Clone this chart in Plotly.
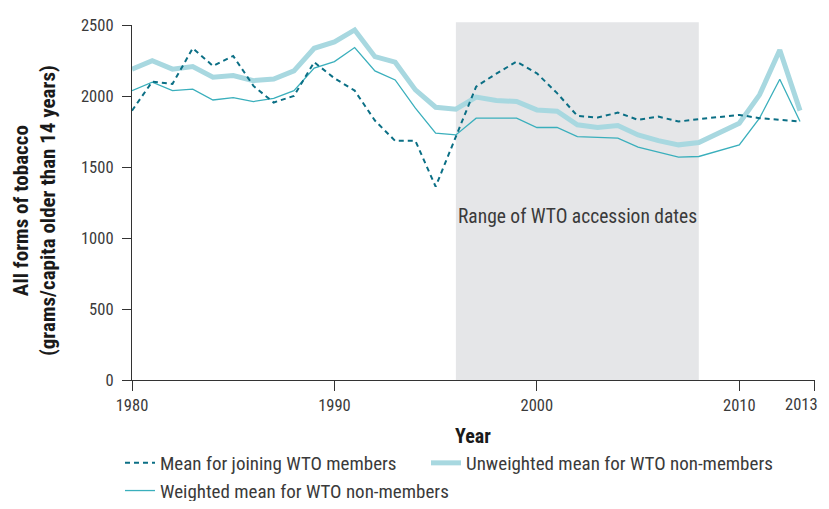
import plotly.graph_objects as go

years = list(range(1980, 2014))

joining = [1897, 2101, 2085, 2336, 2212, 2282, 2071, 1954, 2001, 2238,
           2125, 2038, 1827, 1684, 1684, 1362, 1714, 2066, 2158, 2242,
           2160, 2020, 1860, 1848, 1883, 1832, 1855, 1820, 1837, 1851,
           1867, 1844, 1832, 1820]

unweighted = [2189, 2249, 2189, 2207, 2132, 2144, 2108, 2120, 2177, 2336,
              2381, 2465, 2277, 2238, 2043, 1921, 1907, 1992, 1968, 1961,
              1902, 1893, 1797, 1778, 1792, 1726, 1686, 1656, 1672, 1740,
              1808, 2008, 2324, 1897]

weighted = [2038, 2097, 2038, 2048, 1972, 1989, 1961, 1984, 2038, 2196,
            2242, 2341, 2177, 2113, 1914, 1738, 1726, 1844, 1844, 1844,
            1778, 1778, 1714, 1710, 1703, 1640, 1602, 1569, 1574, 1616,
            1656, 1844, 2118, 1820]

accession_start, accession_end = 1996, 2008
x_tickvals = [1980, 1990, 2000, 2010, 2013.72]
x_ticktext = ["1980", "1990", "2000", "2010", ""]
last_tick_label = "2013"
y_tickvals = [0, 500, 1000, 1500, 2000, 2500]

FONT = "Roboto Condensed, DejaVu Sans Condensed, sans-serif"
TXT = "#3a3a3a"

# The page has an 8px body margin, so the figure is sized to fit the window without
# scrolling; plot area spans page x 132-815, y 25-380.
fig = go.Figure()
fig.add_trace(go.Scatter(x=years, y=unweighted, mode="lines",
                         name="Unweighted mean for WTO non-members", legend="legend2",
                         line=dict(color="#a8d8e0", width=5)))
fig.add_trace(go.Scatter(x=years, y=weighted, mode="lines",
                         name="Weighted mean for WTO non-members", legend="legend",
                         legendgroup="w", legendrank=2,
                         line=dict(color="#3aafbc", width=1.3)))
fig.add_trace(go.Scatter(x=years, y=joining, mode="lines",
                         name="Mean for joining WTO members", legend="legend",
                         legendgroup="j", legendrank=1,
                         line=dict(color="#0b6f85", width=2, dash="5px,4px")))

fig.add_shape(type="rect", xref="x", yref="paper", x0=accession_start, x1=accession_end,
              y0=0, y1=1.008, fillcolor="#e5e6e8", line=dict(width=0), layer="below")

fig.add_annotation(text="Range of WTO accession dates", xref="x", yref="paper",
                   x=(accession_start + accession_end) / 2, y=(380 - 217) / 355,
                   showarrow=False, font=dict(family=FONT, size=19.5, color=TXT))

# last x tick label sits just left of the axis end, as in the original
fig.add_annotation(text=last_tick_label, xref="paper", yref="paper",
                   x=(820 - 132) / 683, y=(380 - 405) / 355, xanchor="right",
                   yanchor="middle", showarrow=False,
                   font=dict(family=FONT, size=16.5, color=TXT))

fig.add_annotation(text="<b>All forms of tobacco<br>(grams/capita older than 14 years)</b>",
                   xref="paper", yref="paper", x=(34 - 132) / 683, y=(380 - 211) / 355,
                   textangle=-90, showarrow=False, xanchor="center", yanchor="middle",
                   font=dict(family=FONT, size=21, color="#1a1a1a"))
fig.add_annotation(text="<b>Year</b>", xref="paper", yref="paper",
                   x=(473 - 132) / 683, y=(380 - 436) / 355, showarrow=False,
                   xanchor="center", yanchor="middle",
                   font=dict(family=FONT, size=20, color="#1a1a1a"))

legend_common = dict(orientation="v", xanchor="left", yanchor="top", itemwidth=30,
                     font=dict(family=FONT, size=19, color=TXT), tracegroupgap=0,
                     bgcolor="rgba(0,0,0,0)")

fig.update_layout(
    width=813, height=493,
    margin=dict(l=124, r=6, t=17, b=121, autoexpand=False),
    plot_bgcolor="white", paper_bgcolor="white",
    font=dict(family=FONT, size=17, color=TXT),
    showlegend=True,
    legend=dict(x=(120 - 132) / 683, y=(380 - 444) / 355, traceorder="grouped",
                **legend_common),
    legend2=dict(x=(426 - 132) / 683, y=(380 - 444) / 355, **legend_common),
    xaxis=dict(range=[1980, 2013.74], tickvals=x_tickvals, ticktext=x_ticktext,
               showgrid=False, zeroline=False, showline=True, linecolor="#333",
               linewidth=1.3, ticks="outside", ticklen=10, tickcolor="#333",
               tickwidth=1.3,
               tickfont=dict(family=FONT, size=16.5, color=TXT)),
    yaxis=dict(range=[0, 2500], tickvals=y_tickvals, showgrid=False, zeroline=False,
               showline=True, linecolor="#333", linewidth=1.3, ticks="outside",
               ticklen=9, tickcolor="#333", tickwidth=1.3, ticklabelstandoff=5,
               tickfont=dict(family=FONT, size=16.5, color=TXT)),
)

fig.write_html("out.html")
